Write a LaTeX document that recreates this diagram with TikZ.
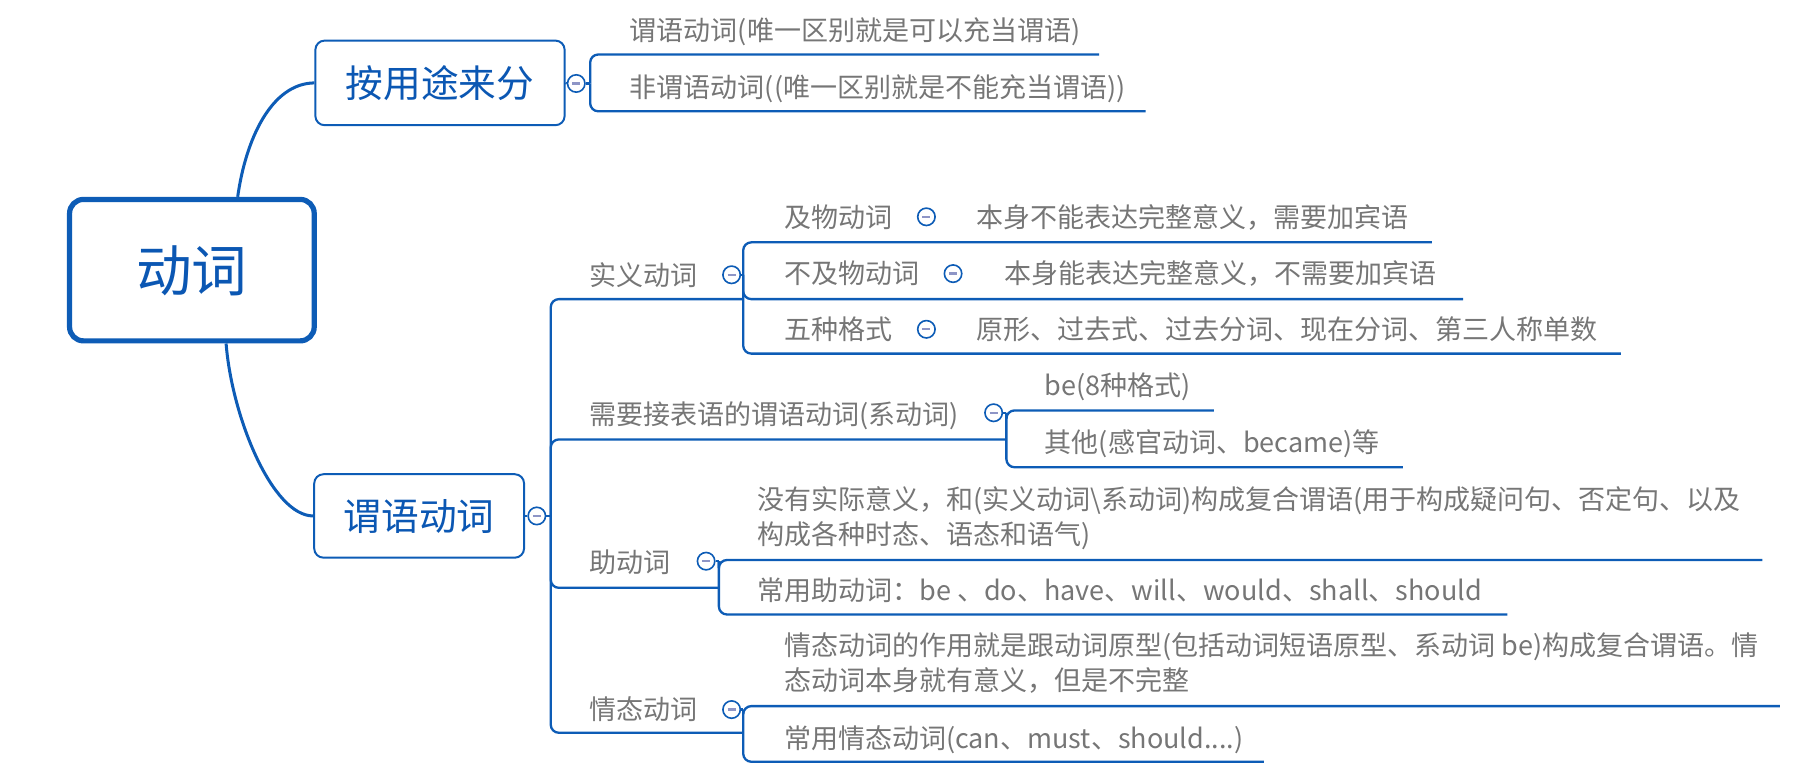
\documentclass[tikz,border=0pt]{standalone}
\usepackage{fontspec}
\setmainfont{Noto Sans CJK SC}
\usetikzlibrary{backgrounds}

\definecolor{lineblue}{HTML}{0D5CB6}
\definecolor{topicblue}{HTML}{0B57B3}
\definecolor{textgray}{HTML}{767676}
\definecolor{minuslav}{HTML}{8E95C6}

% struts centred on the visual middle of the CJK glyphs (0.38em above the baseline)
\newcommand\onestrut{\rule[-0.3em]{0pt}{1.36em}}
\newcommand\lstrut{\rule[-0.14em]{0pt}{0.9em}}

\tikzset{
  conn/.style={draw=lineblue, line width=2pt, rounded corners=7pt},
  mainconn/.style={draw=lineblue, line width=2.6pt},
  rootbox/.style={draw=lineblue, line width=4.5pt, rounded corners=12pt, fill=white,
    minimum width=211pt, minimum height=122pt, inner sep=0pt,
    font=\fontsize{48}{52}\selectfont, text=topicblue, execute at begin node=\onestrut},
  topicbox/.style={draw=lineblue, line width=1.7pt, rounded corners=8pt, fill=white,
    inner sep=0pt, font=\fontsize{32.5}{38}\selectfont, text=topicblue,
    execute at begin node=\onestrut},
  leaf/.style={anchor=west, inner sep=0pt, text=textgray, font=\fontsize{23.3}{30.5}\selectfont,
    execute at begin node=\onestrut},
  leaftwo/.style={anchor=west, inner sep=0pt, text=textgray, font=\fontsize{23.3}{30.5}\selectfont,
    align=left},
  fold/.style={circle, draw=lineblue, line width=1.4pt, fill=white, minimum size=15pt,
    inner sep=0pt,
    path picture={\draw[minuslav, line width=2pt]
      ([xshift=-3.5pt]path picture bounding box.center) --
      ([xshift=3.5pt]path picture bounding box.center);}},
}

\begin{document}
\begin{tikzpicture}[x=1pt, y=-1pt]
  \useasboundingbox (0,0) rectangle (1568,668);

  % central topic and the two main branches
  \node[rootbox]  (root) at (165.5,233) {动词};
  \node[topicbox, minimum width=215pt, minimum height=73pt] (use)  at (379.5,71.5) {按用途来分};
  \node[topicbox, minimum width=181pt, minimum height=72pt] (pred) at (361.5,445) {谓语动词};

  \begin{scope}[on background layer]
    \draw[mainconn] ([xshift=39.5pt]root.north) .. controls (212,120) and (234,72) .. (use.west);
    \draw[mainconn] ([xshift=29.5pt]root.south) .. controls (200,360) and (235,445) .. (pred.west);
  \end{scope}

  % ---------- 按用途来分 ----------
  \node[fold] (fuse) at (497,72) {};
  \coordinate (buse) at (509,72);
  \node[leaf] (u1) at (543,26) {谓语动词(唯一区别就是可以充当谓语)};
  \node[leaf] (u2) at (543,75) {非谓语动词((唯一区别就是不能充当谓语))};
  \coordinate (u1e) at (948,47);
  \coordinate (u2e) at (988,96);
  \draw[conn] (use.east) -- (fuse.west);
  \draw[conn] (fuse.east) -- (buse);
  \draw[conn] (buse) |- (u1e);
  \draw[conn] (buse) |- (u2e);

  % ---------- 谓语动词 ----------
  \node[fold] (fpred) at (463,445) {};
  \coordinate (bpred) at (475,445);
  \draw[conn] (pred.east) -- (fpred.west);
  \draw[conn] (fpred.east) -- (bpred);

  % 实义动词
  \node[leaf] (shi) at (508,237) {实义动词};
  \node[fold] (fshi) at (631,237) {};
  \coordinate (bshi) at (641,237);
  \coordinate (shie) at (641,258);
  \draw[conn] (bpred) |- (shie);
  \draw[conn] (fshi.east) -- (bshi);

  \node[leaf] (ji)   at (676,187) {及物动词};
  \node[fold] (fji)  at (799,187) {};
  \node[leaf] (jid)  at (842,187) {本身不能表达完整意义，需要加宾语};
  \coordinate (jie) at (1235,209);

  \node[leaf] (bu)   at (676,236) {不及物动词};
  \node[fold] (fbu)  at (822,236) {};
  \node[leaf] (bud)  at (866,236) {本身能表达完整意义，不需要加宾语};
  \coordinate (bue) at (1262,258);

  \node[leaf] (wu)   at (676,284) {五种格式};
  \node[fold] (fwu)  at (799,284) {};
  \node[leaf] (wud)  at (842,284) {原形、过去式、过去分词、现在分词、第三人称单数};
  \coordinate (wue) at (1398,305);

  \draw[conn] (bshi) |- (jie);
  \draw[conn] (bshi) |- (bue);
  \draw[conn] (bshi) |- (wue);

  % 系动词
  \node[leaf] (xi) at (508,357) {需要接表语的谓语动词(系动词)};
  \node[fold] (fxi) at (857,356) {};
  \coordinate (bxi) at (868,356);
  \coordinate (xie) at (868,379);
  \draw[conn] (bpred) |- (xie);
  \draw[conn] (fxi.east) -- (bxi);

  \node[leaf] (be)  at (901,332) {be(8种格式)};
  \coordinate (bee) at (1047,354);
  \node[leaf] (qt)  at (901,381) {其他(感官动词、became)等};
  \coordinate (qte) at (1210,403);
  \draw[conn] (bxi) |- (bee);
  \draw[conn] (bxi) |- (qte);

  % 助动词
  \node[leaf] (zhu) at (508,485) {助动词};
  \node[fold] (fzhu) at (609,484) {};
  \coordinate (bzhu) at (620,484);
  \coordinate (zhue) at (620,507);
  \draw[conn] (bpred) |- (zhue);
  \draw[conn] (fzhu.east) -- (bzhu);

  \node[leaftwo] (zhu1) at (653,447)
    {\lstrut 没有实际意义，和(实义动词\textbackslash 系动词)构成复合谓语(用于构成疑问句、否定句、以及\\
     \lstrut 构成各种时态、语态和语气)};
  \coordinate (zhu1e) at (1520,483);
  \node[leaf] (zhu2) at (653,509) {常用助动词：be 、do、have、will、would、shall、should};
  \coordinate (zhu2e) at (1300,530);
  \draw[conn] (bzhu) |- (zhu1e);
  \draw[conn] (bzhu) |- (zhu2e);

  % 情态动词
  \node[leaf] (qing) at (508,612) {情态动词};
  \node[fold] (fqing) at (631,612) {};
  \coordinate (bqing) at (641,612);
  \coordinate (qinge) at (641,632);
  \draw[conn] (bpred) |- (qinge);
  \draw[conn] (fqing.east) -- (bqing);

  \node[leaftwo] (qing1) at (676,572.5)
    {\lstrut 情态动词的作用就是跟动词原型(包括动词短语原型、系动词 be)构成复合谓语。情\\
     \lstrut 态动词本身就有意义，但是不完整};
  \coordinate (qing1e) at (1535,609);
  \node[leaf] (qing2) at (676,637) {常用情态动词(can、must、should....)};
  \coordinate (qing2e) at (1090,657);
  \draw[conn] (bqing) |- (qing1e);
  \draw[conn] (bqing) |- (qing2e);
\end{tikzpicture}
\end{document}
